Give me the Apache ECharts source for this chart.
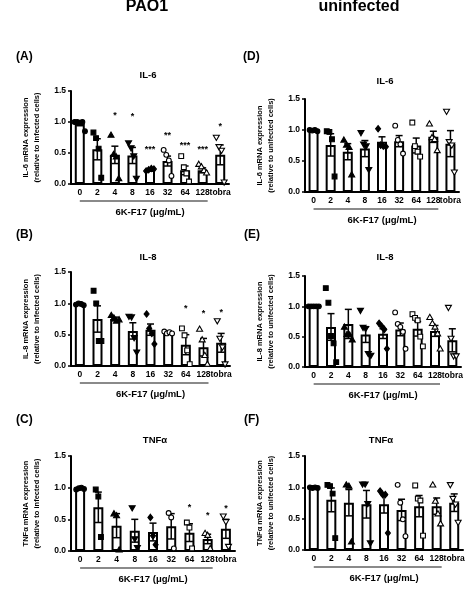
<!DOCTYPE html>
<html><head><meta charset="utf-8">
<script src="https://cdn.jsdelivr.net/npm/echarts/dist/echarts.min.js"></script>
<style>html,body{margin:0;padding:0;background:#fff}#c{width:474px;height:604px}</style>
</head><body><div id="c"></div><script>
// ---------------- DATA ----------------
var categories = ['0','2','4','8','16','32','64','128','tobra'];
var yTicks = [0, 0.5, 1.0, 1.5];

// (A) IL-6, PAO1
var meanA = [0.97, 0.56, 0.47, 0.46, 0.23, 0.37, 0.22, 0.22, 0.47];
var semA  = [0.03, 0.17, 0.14, 0.13, 0.02, 0.08, 0.07, 0.04, 0.16];
var ptsA  = [[1.0,1.0,0.99,1.0,0.85],[0.83,0.74,0.57,0.10],[0.79,0.48,0.44,0.09],[0.66,0.58,0.45,0.09],[0.21,0.23,0.25,0.24],[0.55,0.47,0.38,0.13],[0.45,0.27,0.17,0.04],[0.32,0.28,0.22,0.18],[0.75,0.60,0.54,0.03]];
var starsA = ['', '', '*', '*', '***', '**', '***', '***', '*'];
var starYA = [null, null, 1.15, 1.14, 0.61, 0.83, 0.67, 0.61, 0.98];

// (B) IL-8, PAO1
var meanB = [0.99, 0.75, 0.75, 0.56, 0.58, 0.53, 0.34, 0.30, 0.37];
var semB  = [0.01, 0.21, 0.03, 0.13, 0.09, 0.02, 0.16, 0.14, 0.15];
var ptsB  = [[0.98,1.0,0.99,0.97],[1.2,1.0,0.40,0.40],[0.81,0.77,0.72,0.74],[0.79,0.78,0.45,0.22],[0.83,0.60,0.52,0.35],[0.55,0.52,0.54,0.52],[0.60,0.49,0.25,0.03],[0.59,0.42,0.17,0.03],[0.72,0.44,0.30,0.03]];
var starsB = ['', '', '', '', '', '', '*', '*', '*'];
var starYB = [null, null, null, null, null, null, 0.96, 0.88, 0.90];

// (C) TNFa, PAO1
var meanC = [0.99, 0.69, 0.40, 0.32, 0.30, 0.39, 0.29, 0.19, 0.35];
var semC  = [0.01, 0.24, 0.19, 0.18, 0.14, 0.20, 0.14, 0.075, 0.15];
var ptsC  = [[0.97,0.99,1.0,0.98],[0.97,0.86,0.22],[0.59,0.56,0.02],[0.68,0.19,0.05],[0.53,0.24,0.10],[0.60,0.53,0.04],[0.45,0.37,0.04],[0.28,0.25,0.04],[0.55,0.46,0.07]];
var starsC = ['', '', '', '', '', '', '*', '*', '*'];
var starYC = [null, null, null, null, null, null, 0.73, 0.61, 0.72];

// (D) IL-6, uninfected
var meanD = [1.0, 0.76, 0.65, 0.70, 0.81, 0.82, 0.75, 0.89, 0.78];
var semD  = [0.01, 0.18, 0.13, 0.13, 0.08, 0.09, 0.12, 0.09, 0.21];
var ptsD  = [[1.0,0.99,1.0,0.98],[0.98,0.97,0.85,0.25],[0.84,0.76,0.72,0.28],[0.955,0.77,0.74,0.36],[1.02,0.755,0.74,0.73],[1.07,0.84,0.77,0.62],[1.12,0.74,0.65,0.57],[1.1,0.88,0.85,0.67],[1.3,0.81,0.755,0.32]];

// (E) IL-8, uninfected
var meanE = [1.0, 0.66, 0.71, 0.535, 0.55, 0.62, 0.63, 0.595, 0.44];
var semE  = [0.005, 0.22, 0.24, 0.13, 0.08, 0.105, 0.12, 0.09, 0.19];
var ptsE  = [[1.0,1.0,1.0,1.0,1.0],[1.30,1.06,0.51,0.39,0.08],[0.66,0.54,0.53,0.45],[0.93,0.65,0.63,0.22,0.19],[0.72,0.67,0.62,0.30],[0.90,0.71,0.66,0.58,0.30],[0.87,0.81,0.77,0.50,0.34],[0.82,0.72,0.66,0.55,0.30],[0.98,0.47,0.18,0.18]];

// (F) TNFa, uninfected
var meanF = [1.0, 0.80, 0.755, 0.73, 0.73, 0.64, 0.70, 0.70, 0.755];
var semF  = [0.005, 0.19, 0.21, 0.22, 0.14, 0.17, 0.17, 0.13, 0.14];
var ptsF  = [[1.0,0.99,1.0,0.99],[1.04,1.02,0.90,0.19],[1.04,1.02,0.13],[1.05,1.05,0.74,0.11],[0.94,0.885,0.885,0.27],[1.04,0.755,0.49,0.22],[1.03,0.82,0.79,0.23],[1.04,0.78,0.58,0.42],[1.04,0.82,0.73,0.44]];

var noStars = ['', '', '', '', '', '', '', '', ''];
var noStarY = [null, null, null, null, null, null, null, null, null];

// ---------------- LAYOUT ----------------
var FONT = "'Liberation Sans', Arial, sans-serif";
var panels = [
  {mean:meanA, sem:semA, pts:ptsA, stars:starsA, starY:starYA, grid:{left:71, top:91, width:158, height:93},
   title:'IL-6', tx:148, ty:75, letter:'(A)', lx:16, ly:57, yname:'IL-6 mRNA expression\n(relative to infected cells)'},
  {mean:meanB, sem:semB, pts:ptsB, stars:starsB, starY:starYB, grid:{left:71, top:272, width:159, height:94},
   title:'IL-8', tx:148, ty:257, letter:'(B)', lx:16, ly:235, yname:'IL-8 mRNA expression\n(relative to infected cells)'},
  {mean:meanC, sem:semC, pts:ptsC, stars:starsC, starY:starYC, grid:{left:71, top:456, width:164, height:95},
   title:'TNFα', tx:155, ty:440, letter:'(C)', lx:16, ly:420, yname:'TNFα mRNA expression\n(relative to infected cells)'},
  {mean:meanD, sem:semD, pts:ptsD, stars:noStars, starY:noStarY, grid:{left:305, top:99, width:154, height:93},
   title:'IL-6', tx:385, ty:81, letter:'(D)', lx:243, ly:57, yname:'IL-6 mRNA expression\n(relative to unifected cells)'},
  {mean:meanE, sem:semE, pts:ptsE, stars:noStars, starY:noStarY, grid:{left:305, top:276, width:156, height:91},
   title:'IL-8', tx:385, ty:257, letter:'(E)', lx:244, ly:235, yname:'IL-8 mRNA expression\n(relative to unifected cells)'},
  {mean:meanF, sem:semF, pts:ptsF, stars:noStars, starY:noStarY, grid:{left:305, top:456, width:158, height:94},
   title:'TNFα', tx:381, ty:440, letter:'(F)', lx:244, ly:420, yname:'TNFα mRNA expression\n(relative to unifected cells)'}
];

var markerKinds = ['circle','rect','tri','itri','diamond','circle','rect','tri','itri'];
var markerOpen  = [false,false,false,false,false,true,true,true,true];

function marker(c, x, y) {
  var kind = markerKinds[c];
  var style = {fill: markerOpen[c] ? '#fff' : '#000', stroke:'#000', lineWidth: 1.1};
  if (kind === 'circle') return {type:'circle', shape:{cx:x, cy:y, r:2.4}, style:style};
  if (kind === 'rect') return {type:'rect', shape:{x:x-2.4, y:y-2.4, width:4.8, height:4.8}, style:style};
  if (kind === 'tri') return {type:'polygon', shape:{points:[[x,y-3],[x+3,y+2.2],[x-3,y+2.2]]}, style:style};
  if (kind === 'itri') return {type:'polygon', shape:{points:[[x,y+3],[x+3,y-2.2],[x-3,y-2.2]]}, style:style};
  return {type:'polygon', shape:{points:[[x,y-3.2],[x+2.5,y],[x,y+3.2],[x-2.5,y]]}, style:style};
}

var grids = [], xAxes = [], yAxes = [], series = [], graphics = [];

graphics.push({type:'text', x:147, y:7, style:{text:'PAO1', font:'bold 16px ' + FONT, fill:'#000', textAlign:'center', textVerticalAlign:'middle'}});
graphics.push({type:'text', x:359, y:7, style:{text:'uninfected', font:'bold 16px ' + FONT, fill:'#000', textAlign:'center', textVerticalAlign:'middle'}});

panels.forEach(function(p, i) {
  grids.push({left:p.grid.left, top:p.grid.top, width:p.grid.width, height:p.grid.height, containLabel:false});
  xAxes.push({
    type:'category', gridIndex:i, data:categories,
    axisLine:{lineStyle:{color:'#000', width:2}},
    axisTick:{alignWithLabel:true, length:3, lineStyle:{color:'#000', width:1.5}},
    axisLabel:{interval:0, fontSize:8.5, fontWeight:'bold', color:'#000', margin:4, fontFamily:FONT}
  });
  yAxes.push({
    type:'value', gridIndex:i, min:yTicks[0], max:yTicks[yTicks.length-1], interval:0.5,
    axisLine:{show:true, lineStyle:{color:'#000', width:2}},
    axisTick:{show:true, length:3, lineStyle:{color:'#000', width:1.5}},
    splitLine:{show:false},
    axisLabel:{fontSize:8.5, fontWeight:'bold', color:'#000', margin:5, fontFamily:FONT,
      formatter:function(v){return v.toFixed(1);}},
    name:p.yname, nameLocation:'middle', nameRotate:90, nameGap:29,
    nameTextStyle:{fontSize:7.5, fontWeight:'bold', color:'#000', lineHeight:11, fontFamily:FONT}
  });
  // bars
  series.push({type:'bar', xAxisIndex:i, yAxisIndex:i, data:p.mean, barWidth:10, z:2,
    itemStyle:{color:'#fff', borderColor:'#000', borderWidth:2}, silent:true, animation:false});
  // error bars
  series.push({type:'custom', xAxisIndex:i, yAxisIndex:i, z:3, animation:false, silent:true,
    data:p.mean.map(function(m, c){return [c, m - p.sem[c], m + p.sem[c]];}),
    renderItem:function(params, api){
      var c = api.value(0);
      var lo = api.coord([c, api.value(1)]);
      var hi = api.coord([c, api.value(2)]);
      var hw = 3.5, st = {stroke:'#000', lineWidth:1.5};
      return {type:'group', children:[
        {type:'line', shape:{x1:lo[0], y1:lo[1], x2:hi[0], y2:hi[1]}, style:st},
        {type:'line', shape:{x1:hi[0]-hw, y1:hi[1], x2:hi[0]+hw, y2:hi[1]}, style:st},
        {type:'line', shape:{x1:lo[0]-hw, y1:lo[1], x2:lo[0]+hw, y2:lo[1]}, style:st}
      ]};
    }});
  // points
  var pdata = [];
  p.pts.forEach(function(arr, c){ arr.forEach(function(v, k){ pdata.push([c, v, k, arr.length]); }); });
  series.push({type:'custom', xAxisIndex:i, yAxisIndex:i, z:4, animation:false, silent:true, data:pdata,
    renderItem:function(params, api){
      var c = api.value(0), k = api.value(2), n = api.value(3);
      var pt = api.coord([c, api.value(1)]);
      var dx = (k - (n - 1) / 2) * 2.6;
      return marker(c, pt[0] + dx, pt[1]);
    }});
  // significance stars
  var sdata = [];
  p.stars.forEach(function(s, c){ if (s) sdata.push([c, p.starY[c]]); });
  if (sdata.length) {
    var starsArr = p.stars;
    series.push({type:'custom', xAxisIndex:i, yAxisIndex:i, z:4, animation:false, silent:true, data:sdata,
      renderItem:function(params, api){
        var c = api.value(0);
        var pt = api.coord([c, api.value(1)]);
        return {type:'text', x:pt[0], y:pt[1] + 3, style:{text:starsArr[c], font:'bold 9px ' + FONT, fill:'#000', textAlign:'center', textVerticalAlign:'middle'}};
      }});
  }
  // bracket + x-axis title
  series.push({type:'custom', xAxisIndex:i, yAxisIndex:i, z:4, animation:false, silent:true, data:[[0,0]],
    renderItem:function(params, api){
      var p0 = api.coord([0, 0]);
      var p7 = api.coord([7, 0]);
      var pm = api.coord([4, 0]);
      return {type:'group', children:[
        {type:'line', shape:{x1:p0[0], y1:p0[1]+17, x2:p7[0]+5, y2:p0[1]+17}, style:{stroke:'#8a8a8a', lineWidth:2}},
        {type:'text', x:pm[0], y:p0[1]+28, style:{text:'6K-F17 (μg/mL)', font:'bold 9.5px ' + FONT, fill:'#000', textAlign:'center', textVerticalAlign:'middle'}}
      ]};
    }});
  graphics.push({type:'text', x:p.tx, y:p.ty, style:{text:p.title, font:'bold 9.5px ' + FONT, fill:'#000', textAlign:'center', textVerticalAlign:'middle'}});
  graphics.push({type:'text', x:p.lx, y:p.ly, style:{text:p.letter, font:'bold 12px ' + FONT, fill:'#000', textAlign:'left', textVerticalAlign:'middle'}});
});

var chart = echarts.init(document.getElementById('c'), null, {renderer:'canvas'});
chart.setOption({
  backgroundColor:'#fff',
  animation:false,
  textStyle:{fontFamily:FONT},
  grid:grids, xAxis:xAxes, yAxis:yAxes, series:series, graphic:graphics
});
</script></body></html>
